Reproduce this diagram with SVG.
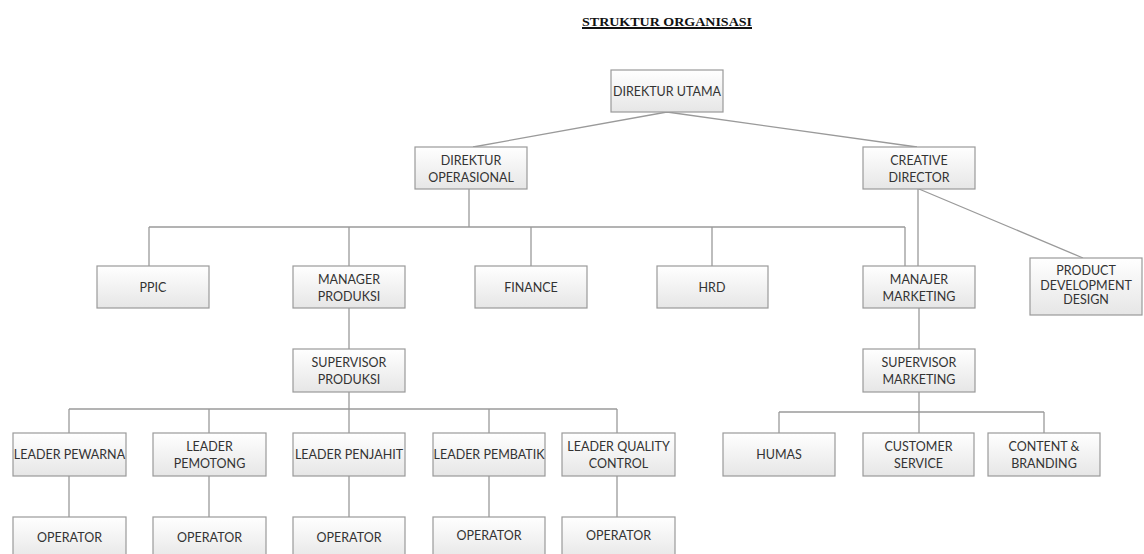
<svg xmlns="http://www.w3.org/2000/svg" width="1144" height="554" viewBox="0 0 1144 554">
<defs>
<linearGradient id="g" x1="0" y1="0" x2="0" y2="1">
<stop offset="0" stop-color="#ffffff"/>
<stop offset="1" stop-color="#e6e6e6"/>
</linearGradient>
<style>
.b{fill:url(#g);stroke:#9a9a9a;stroke-width:1.2}
.t{font-family:Lato,"Open Sans",sans-serif;font-size:12.5px;fill:#333;text-anchor:middle}
.c{fill:none;stroke:#9a9a9a;stroke-width:1.3}
.title{font-family:"Liberation Serif",serif;font-weight:bold;font-size:12px;fill:#111;text-decoration:underline}
</style>
</defs>
<rect width="1144" height="554" fill="#fff"/>
<text class="title" x="582" y="26" textLength="170" lengthAdjust="spacingAndGlyphs">STRUKTUR ORGANISASI</text>
<line x1="582" y1="28.5" x2="752" y2="28.5" stroke="#111" stroke-width="1"/>
<g id="connectors">
<path class="c" d="M667 112 L473 147 M667 112 L917 147"/>
<path class="c" d="M469 189 V227 M149 227 H905 M149 227 V266 M349 227 V266 M531 227 V266 M712 227 V266 M905 227 V266"/>
<path class="c" d="M918 189 V266 M919 189 L1083 258"/>
<path class="c" d="M349 308 V349 M349 392 V409 M69 409 H617 M69 409 V433 M209 409 V433 M349 409 V433 M489 409 V433 M617 409 V433"/>
<path class="c" d="M69 476 V517 M209 476 V517 M349 476 V517 M489 476 V517 M617 476 V517"/>
<path class="c" d="M919 308 V349 M919 392 V412 M779 412 H1044 M779 412 V433 M919 412 V433 M1044 412 V433"/>
</g>
<g id="direktur-utama"><rect class="b" x="611" y="70" width="112" height="42"/><text class="t" x="667" y="95.5">DIREKTUR UTAMA</text></g>
<g id="direktur-operasional"><rect class="b" x="415" y="147" width="112" height="42"/><text class="t" x="471" y="164.5">DIREKTUR</text><text class="t" x="471" y="181.5">OPERASIONAL</text></g>
<g id="creative-director"><rect class="b" x="863" y="147" width="112" height="42"/><text class="t" x="919" y="164.5">CREATIVE</text><text class="t" x="919" y="181.5">DIRECTOR</text></g>
<g id="ppic"><rect class="b" x="97" y="266" width="112" height="42"/><text class="t" x="153" y="291.5">PPIC</text></g>
<g id="manager-produksi"><rect class="b" x="293" y="266" width="112" height="42"/><text class="t" x="349" y="283.5">MANAGER</text><text class="t" x="349" y="300.5">PRODUKSI</text></g>
<g id="finance"><rect class="b" x="475" y="266" width="112" height="42"/><text class="t" x="531" y="291.5">FINANCE</text></g>
<g id="hrd"><rect class="b" x="657" y="266" width="111" height="42"/><text class="t" x="712" y="291.5">HRD</text></g>
<g id="manajer-marketing"><rect class="b" x="863" y="266" width="112" height="42"/><text class="t" x="919" y="283.5">MANAJER</text><text class="t" x="919" y="300.5">MARKETING</text></g>
<g id="product-development-design"><rect class="b" x="1030" y="258" width="112" height="57"/><text class="t" x="1086" y="275">PRODUCT</text><text class="t" x="1086" y="289.5">DEVELOPMENT</text><text class="t" x="1086" y="304">DESIGN</text></g>
<g id="supervisor-produksi"><rect class="b" x="293" y="349" width="112" height="43"/><text class="t" x="349" y="366.5">SUPERVISOR</text><text class="t" x="349" y="383.5">PRODUKSI</text></g>
<g id="supervisor-marketing"><rect class="b" x="863" y="349" width="112" height="43"/><text class="t" x="919" y="366.5">SUPERVISOR</text><text class="t" x="919" y="383.5">MARKETING</text></g>
<g id="leader-pewarna"><rect class="b" x="13" y="433" width="113" height="43"/><text class="t" x="69.5" y="458.5">LEADER PEWARNA</text></g>
<g id="leader-pemotong"><rect class="b" x="153" y="433" width="113" height="43"/><text class="t" x="209.5" y="450.5">LEADER</text><text class="t" x="209.5" y="467.5">PEMOTONG</text></g>
<g id="leader-penjahit"><rect class="b" x="293" y="433" width="112" height="43"/><text class="t" x="349" y="458.5">LEADER PENJAHIT</text></g>
<g id="leader-pembatik"><rect class="b" x="433" y="433" width="112" height="43"/><text class="t" x="489" y="458.5">LEADER PEMBATIK</text></g>
<g id="leader-quality-control"><rect class="b" x="562" y="433" width="113" height="43"/><text class="t" x="618.5" y="450.5">LEADER QUALITY</text><text class="t" x="618.5" y="467.5">CONTROL</text></g>
<g id="operator-1"><rect class="b" x="13" y="517" width="113" height="43"/><text class="t" x="69.5" y="542">OPERATOR</text></g>
<g id="operator-2"><rect class="b" x="153" y="517" width="113" height="43"/><text class="t" x="209.5" y="542">OPERATOR</text></g>
<g id="operator-3"><rect class="b" x="293" y="517" width="112" height="43"/><text class="t" x="349" y="542">OPERATOR</text></g>
<g id="operator-4"><rect class="b" x="433" y="517" width="112" height="43"/><text class="t" x="489" y="540">OPERATOR</text></g>
<g id="operator-5"><rect class="b" x="562" y="517" width="113" height="43"/><text class="t" x="618.5" y="540">OPERATOR</text></g>
<g id="humas"><rect class="b" x="723" y="433" width="112" height="43"/><text class="t" x="779" y="458.5">HUMAS</text></g>
<g id="customer-service"><rect class="b" x="863" y="433" width="111" height="43"/><text class="t" x="918.5" y="450.5">CUSTOMER</text><text class="t" x="918.5" y="467.5">SERVICE</text></g>
<g id="content-branding"><rect class="b" x="988" y="433" width="112" height="43"/><text class="t" x="1044" y="450.5">CONTENT &amp;</text><text class="t" x="1044" y="467.5">BRANDING</text></g>
</svg>
